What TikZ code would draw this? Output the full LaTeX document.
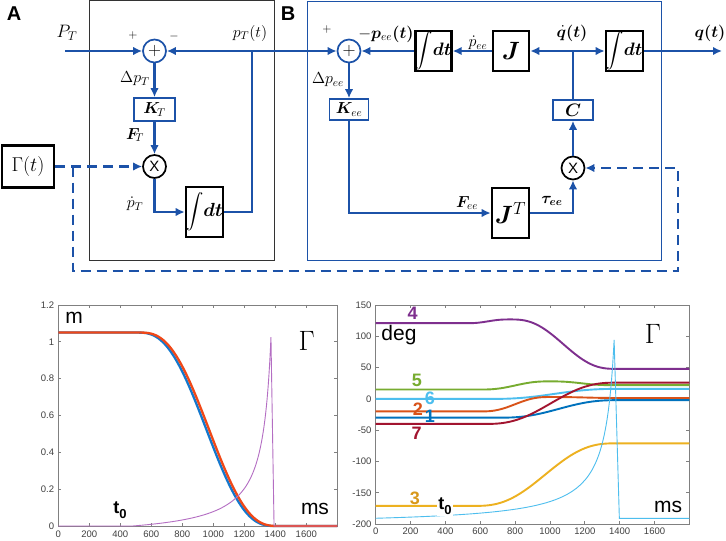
\documentclass[tikz,border=0pt]{standalone}
\usepackage{fix-cm}
\usepackage{amsmath}
\usepackage{fontspec}
\usepackage{bm}
\newfontfamily\arialf{Liberation Sans}
\usetikzlibrary{arrows.meta}
\definecolor{lnblue}{RGB}{28,82,168}
\definecolor{axg}{RGB}{128,128,128}
\definecolor{mblue}{HTML}{0072BD}
\definecolor{morange}{HTML}{D95319}
\definecolor{myellow}{HTML}{EDB120}
\definecolor{myellowd}{HTML}{D8981A}
\definecolor{mpurple}{HTML}{7E2F8E}
\definecolor{mgreen}{HTML}{77AC30}
\definecolor{mcyan}{HTML}{4DBEEE}
\definecolor{mred}{HTML}{A2142F}
\definecolor{lred}{RGB}{240,72,24}
\definecolor{lblue}{RGB}{20,120,205}
\definecolor{gpurple}{RGB}{180,110,195}
\newcommand{\intdt}{$\displaystyle\int\!\bm{dt}$}
\newcommand{\tzero}{{\arialf\bfseries\fontsize{18}{18}\selectfont t\raisebox{-0.3em}{\fontsize{13}{13}\selectfont 0}}}
\begin{document}
\begin{tikzpicture}[x=1pt,y=-1pt,
  declare function={mjf(\u)=\u*\u*\u*(10-15*\u+6*\u*\u);
                    mjc(\t,\a,\b)=mjf(min(1,max(0,(\t-\a)/(\b-\a))));},
  sig/.style={lnblue,line width=2.6pt},
  arr/.style={-{Latex[length=9pt,width=8.5pt]}},
  dsh/.style={lnblue,line width=2.6pt,dash pattern=on 10pt off 6pt},
  ibox/.style={draw=black,line width=2.6pt,fill=white,inner sep=0pt,font=\fontsize{18}{18}\selectfont},
  kbox/.style={draw=lnblue,line width=1.7pt,fill=white,inner sep=0pt,font=\fontsize{16}{16}\selectfont},
  sumc/.style={circle,draw=lnblue,line width=1.7pt,fill=white,minimum size=23pt,inner sep=0pt,font=\fontsize{18}{18}\selectfont},
  mulc/.style={circle,draw=black,line width=1.7pt,fill=white,minimum size=23pt,inner sep=0pt,font=\arialf\fontsize{15}{15}\selectfont},
  lbl/.style={inner sep=0pt,font=\fontsize{16}{18}\selectfont},
  pm/.style={inner sep=0pt,font=\fontsize{12}{12}\selectfont},
  axis/.style={axg,line width=0.8pt},
  tl/.style={inner sep=0pt,text=black!75,font=\arialf\fontsize{9.5}{9.5}\selectfont},
  plbl/.style={inner sep=0pt,font=\arialf\fontsize{21}{21}\selectfont},
  num/.style={inner sep=0pt,font=\arialf\bfseries\fontsize{18}{18}\selectfont},
  gl/.style={inner sep=0pt,font=\fontsize{28}{28}\selectfont}]
\useasboundingbox (0,0) rectangle (726,541);
\fill[white] (0,0) rectangle (726,541);
% ---------- frames ----------
\draw[black!80,line width=1pt] (89,0.5) rectangle (274,260);
\draw[lnblue,line width=1pt] (307,1) rectangle (661,260);
\node[inner sep=0pt,font=\arialf\bfseries\fontsize{20}{20}\selectfont] (labA) at (14,14) {A};
\node[inner sep=0pt,font=\arialf\bfseries\fontsize{20}{20}\selectfont] (labB) at (288,14) {B};
% ---------- block A ----------
\node[sumc] (sumA) at (154.5,51) {$+$};
\node[kbox,minimum width=41pt,minimum height=23pt] (kT) at (154.5,109.5) {$\bm{K}_{\!T}$};
\node[mulc] (mulA) at (154.5,166.5) {X};
\node[ibox,minimum width=37pt,minimum height=50pt,font=\fontsize{19}{19}\selectfont] (intA) at (204.5,212) {\intdt};
\node[draw=black,line width=2.6pt,fill=white,minimum width=52pt,minimum height=42pt,inner sep=0pt,font=\fontsize{20}{20}\selectfont] (gam) at (28,166.5) {$\Gamma(t)$};
\coordinate (pin) at (65,51);
\coordinate (brA) at (252,51);
\coordinate (brAd) at (252,212);
\draw[sig,arr] (pin) -- (sumA);
\draw[sig,arr] (brA) -- (sumA);
\draw[sig] (intA.east) -- (brAd) -- (brA);
\draw[sig,arr] (sumA) -- (kT);
\draw[sig,arr] (kT) -- (mulA);
\draw[sig,arr] (mulA.south) |- (intA.west);
% ---------- block B ----------
\node[sumc] (sumB) at (349,51) {$+$};
\node[kbox,minimum width=39pt,minimum height=21pt] (kee) at (349,109.5) {$\bm{K}_{ee}$};
\node[ibox,minimum width=35pt,minimum height=40pt] (intB1) at (433.5,51) {\intdt};
\node[ibox,minimum width=36pt,minimum height=40pt,font=\fontsize{25}{25}\selectfont] (J) at (511,51) {$\bm{J}$};
\coordinate (brq) at (573,51);
\node[ibox,minimum width=37pt,minimum height=40pt] (intB2) at (624.5,51) {\intdt};
\coordinate (qout) at (722,51);
\node[kbox,minimum width=40pt,minimum height=20pt,font=\fontsize{18}{18}\selectfont] (C) at (573,110) {$\bm{C}$};
\node[mulc] (mulB) at (573,168) {X};
\node[ibox,minimum width=37pt,minimum height=50pt,font=\fontsize{25}{25}\selectfont] (JT) at (510.5,213) {$\bm{J}^{T}$};
\draw[sig,arr] (brA) -- (sumB);
\draw[sig,arr] (intB1) -- (sumB);
\draw[sig,arr] (J) -- (intB1);
\draw[sig,arr] (brq) -- (J);
\draw[sig,arr] (brq) -- (intB2);
\draw[sig,arr] (intB2) -- (qout);
\draw[sig] (C) -- (brq);
\draw[sig,arr] (mulB) -- (C);
\draw[sig,arr] (sumB) -- (kee);
\draw[sig,arr] (kee.south) |- (JT.west);
\draw[sig,arr] (JT.east) -| (mulB.south);
% ---------- dashed gamma path ----------
\coordinate (dA) at (73,166.5);
\coordinate (dB) at (73,271);
\coordinate (dC) at (678,271);
\coordinate (dD) at (678,168);
\draw[dsh,arr] (gam.east) -- (mulA.west);
\draw[dsh,arr] (dA) -- (dB) -- (dC) -- (dD) -- (mulB.east);
% ---------- labels top ----------
\node[lbl,font=\fontsize{18}{18}\selectfont] (tPT) at (67,33) {$P_T$};
\node[pm] (tpA) at (133,35) {$+$};
\node[pm] (tmA) at (174,36) {$-$};
\node[lbl] (tpTt) at (250,33) {$p_T(t)$};
\node[lbl] (tdpT) at (135,79) {$\Delta p_T$};
\node[lbl] (tFT) at (135,135) {$\bm{F}_{\!T}$};
\node[lbl] (tpdT) at (135,204) {$\dot{p}_T$};
\node[pm] (tpB) at (327,29) {$+$};
\node[lbl,font=\fontsize{16.5}{16.5}\selectfont] (tpee) at (386,34) {$-\bm{p}_{ee}\bm{(t)}$};
\node[lbl] (tpdee) at (478,43) {$\dot{p}_{ee}$};
\node[lbl,font=\fontsize{16.5}{16.5}\selectfont] (tqd) at (572,33) {$\dot{\bm{q}}\bm{(t)}$};
\node[lbl,font=\fontsize{16.5}{16.5}\selectfont] (tq) at (710,33) {$\bm{q(t)}$};
\node[lbl] (tdpee) at (328,80) {$\Delta p_{ee}$};
\node[lbl] (tFee) at (467,203) {$\bm{F}_{ee}$};
\node[lbl] (ttau) at (552,201) {$\bm{\tau}_{\bm{ee}}$};
% ---------- left plot ----------
\begin{scope}[shift={(58.3,526)},x=0.155pt,y=184.2pt]
  \draw[axis] (0,0) rectangle (1800,1.2);
  \foreach \i in {0,200,...,1800} {
    \draw[axis] (\i,0) -- ++(0,3pt);
    \draw[axis] (\i,1.2) -- ++(0,-3pt);
  }
  \foreach \i in {0,200,...,1600} \node[tl,anchor=north] (lx\i) at ([yshift=-5pt]\i,0) {\i};
  \foreach \v/\l in {0/0,0.2/0.2,0.4/0.4,0.6/0.6,0.8/0.8,1/1,1.2/1.2} {
    \draw[axis] (0,\v) -- ++(3pt,0);
    \draw[axis] (1800,\v) -- ++(-3pt,0);
    \node[tl,anchor=east] at ([xshift=-4pt]0,\v) {\l};
  }
  \draw[lblue,line width=2.3pt] plot[domain=0:1800,samples=181] (\x,{1.05*(1-mjc(\x,505,1405))});
  \draw[lred,line width=2.3pt] plot[domain=0:1800,samples=181] (\x,{1.05*(1-mjc(\x,522,1422))});
  \draw[gpurple,line width=0.9pt] (0,0) -- (480,0) -- plot[domain=480:1200,samples=40] (\x,{61/(1428-\x)-0.06435}) -- plot[domain=1200:1372,samples=50] (\x,{61/(1428-\x)-0.06435}) -- (1392,0) -- (1800,0);
\end{scope}
\node[plbl] (lm) at (74,318) {m};
\node[gl] (lG) at (306.7,341) {$\Gamma$};
\node[inner sep=0pt] (lt0) at (120,510) {\tzero};
\node[plbl] (lms) at (315,509) {ms};
% ---------- right plot ----------
\begin{scope}[shift={(375.7,398.9)},x=0.17428pt,y=0.6257pt]
  \draw[axis] (0,-200) rectangle (1800,150);
  \foreach \i in {0,200,...,1800} {
    \draw[axis] (\i,-200) -- ++(0,3pt);
    \draw[axis] (\i,150) -- ++(0,-3pt);
  }
  \foreach \i in {0,200,...,1600} \node[tl,anchor=north] (rx\i) at ([yshift=-4pt]\i,-200) {\i};
  \foreach \v in {-200,-150,...,150} {
    \draw[axis] (0,\v) -- ++(3pt,0);
    \draw[axis] (1800,\v) -- ++(-3pt,0);
    \node[tl,anchor=east] at ([xshift=-4pt]0,\v) {\v};
  }
  \draw[mpurple,line width=1.9pt] plot[domain=0:1800,samples=181] (\x,{121+6*mjc(\x,520,770)-79*mjc(\x,770,1383)});
  \draw[mgreen,line width=1.9pt] plot[domain=0:1800,samples=181] (\x,{15+13*mjc(\x,600,1000)-6*mjc(\x,1000,1360)});
  \draw[mcyan,line width=1.9pt] plot[domain=0:1800,samples=181] (\x,{0+16*mjc(\x,650,1400)});
  \draw[morange,line width=1.9pt] plot[domain=0:1800,samples=181] (\x,{-20+23*mjc(\x,600,1000)-1.5*mjc(\x,1000,1400)});
  \draw[mblue,line width=1.9pt] plot[domain=0:1800,samples=181] (\x,{-30+28*mjc(\x,700,1400)});
  \draw[mred,line width=1.9pt] plot[domain=0:1800,samples=181] (\x,{-40+66*mjc(\x,620,1390)});
  \draw[myellow,line width=1.9pt] plot[domain=0:1800,samples=181] (\x,{-171+100*mjc(\x,560,1385)});
  \draw[mcyan,line width=0.9pt] plot[domain=0:1200,samples=50] (\x,{160/((1422-\x)/100)-202}) -- plot[domain=1200:1368,samples=60] (\x,{160/((1422-\x)/100)-202}) -- (1398,-191) -- (1800,-191);
\end{scope}
\node[num,text=mpurple] (r4) at (412.7,313) {4};
\node[plbl] (rdeg) at (399,335) {deg};
\node[gl] (rG) at (653,334) {$\Gamma$};
\node[num,text=mgreen] (r5) at (417,380) {5};
\node[num,text=mcyan] (r6) at (430,398) {6};
\node[num,text=morange] (r2) at (418,409) {2};
\node[num,text=mblue] (r1) at (430,416.7) {1};
\node[num,text=mred] (r7) at (416.7,433) {7};
\node[num,text=myellowd] (r3) at (415,498) {3};
\node[inner sep=1.5pt,fill=white] (rt0) at (445,506) {\tzero};
\node[plbl] (rms) at (668,507) {ms};
\end{tikzpicture}
\end{document}
